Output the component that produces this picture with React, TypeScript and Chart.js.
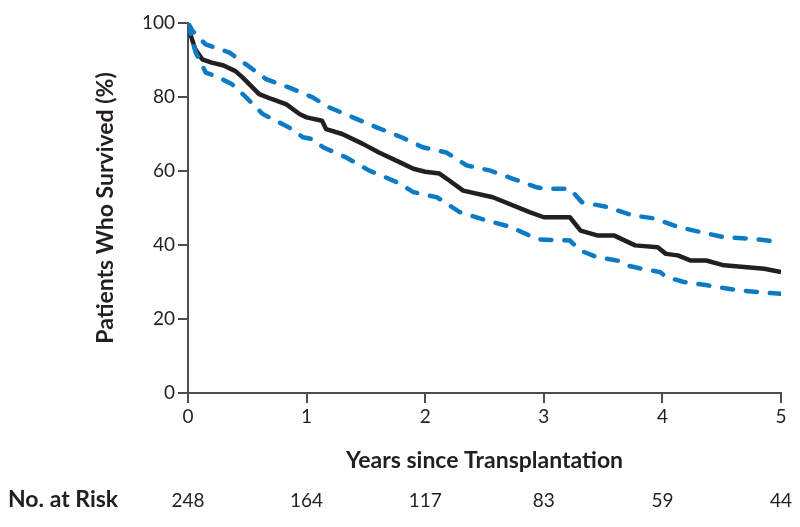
import React, { useEffect, useRef } from "react";
import { Chart, registerables } from "chart.js";

Chart.register(...registerables);

// Kaplan-Meier survival estimate (years, percent)
const survivalYears = [0, 0.02, 0.06, 0.12, 0.2, 0.3, 0.4, 0.46, 0.6, 0.71, 0.83, 0.94, 1.0, 1.13, 1.165, 1.3, 1.47, 1.61, 1.81, 1.9, 2.0, 2.12, 2.2, 2.32, 2.57, 2.88, 3.0, 3.22, 3.31, 3.45, 3.59, 3.77, 3.96, 4.03, 4.13, 4.24, 4.37, 4.52, 4.86, 5.0];
const survivalPct = [100, 97, 93, 90.2, 89.3, 88.5, 87, 85.3, 80.8, 79.4, 78, 75.4, 74.5, 73.6, 71.3, 70, 67.4, 65, 62, 60.6, 59.8, 59.3, 57.5, 54.7, 52.9, 48.9, 47.5, 47.5, 43.9, 42.6, 42.6, 39.9, 39.4, 37.6, 37.2, 35.8, 35.8, 34.5, 33.6, 32.7];

// Upper 95% confidence bound
const upperYears = [0, 0.04, 0.15, 0.35, 0.49, 0.66, 0.85, 1.05, 1.19, 1.39, 1.59, 1.81, 1.98, 2.18, 2.35, 2.55, 2.74, 2.94, 3.0, 3.22, 3.32, 3.53, 3.75, 3.93, 4.13, 4.32, 4.52, 4.75, 5.0];
const upperPct = [100, 97.8, 94.2, 92, 88.8, 84.8, 82.6, 79.9, 77.2, 74.5, 71.8, 69, 66.4, 65, 61.5, 60.1, 57.9, 55.6, 55.2, 55.2, 51.6, 50.3, 48, 47.2, 44.9, 43.5, 42.1, 41.7, 40.8];

// Lower 95% confidence bound
const lowerYears = [0, 0.03, 0.065, 0.15, 0.23, 0.37, 0.49, 0.63, 0.74, 0.85, 0.97, 1.05, 1.14, 1.33, 1.53, 1.76, 1.9, 2.1, 2.29, 2.52, 2.72, 2.95, 3.22, 3.31, 3.45, 3.62, 3.7, 3.82, 3.98, 4.03, 4.18, 4.38, 4.63, 4.91, 5.0];
const lowerPct = [100, 96, 92, 86.6, 85.7, 83.5, 79.9, 75.4, 73.6, 71.8, 69.1, 68.6, 66.4, 63.7, 60.1, 57, 54.3, 52.9, 48.9, 46.6, 44.9, 41.5, 41.2, 38.5, 36.7, 35.8, 34.5, 33.6, 32.7, 31.4, 30, 29.1, 27.8, 27.0, 26.8];

// Number at risk
const riskYears = [0, 1, 2, 3, 4, 5];
const atRisk = [248, 164, 117, 83, 59, 44];

const TEXT = "#231f20";
const AXIS = "#4d4d4f";
const BLUE = "#0b7bc6";
const FONT = "Lato";

const toPoints = (xs: number[], ys: number[]) => xs.map((x, i) => ({ x, y: ys[i] }));

const riskRowPlugin = {
  id: "riskRow",
  afterDraw(chart: any) {
    const ctx = chart.ctx;
    const xs = chart.scales.x;
    ctx.save();
    ctx.fillStyle = TEXT;
    ctx.textBaseline = "middle";
    ctx.font = `bold 23px ${FONT}`;
    ctx.textAlign = "left";
    ctx.fillText("No. at Risk", 8, 500);
    ctx.font = `19px ${FONT}`;
    ctx.textAlign = "center";
    atRisk.forEach((n, i) => {
      ctx.fillText(String(n), xs.getPixelForValue(riskYears[i]), 501);
    });
    ctx.restore();
  },
};

export default function App() {
  const canvasRef = useRef<HTMLCanvasElement | null>(null);

  useEffect(() => {
    if (!canvasRef.current) return;
    const chart = new Chart(canvasRef.current, {
      type: "line",
      data: {
        datasets: [
          {
            label: "Upper bound",
            data: toPoints(upperYears, upperPct),
            borderColor: BLUE,
            borderWidth: 4.5,
            borderDash: [11, 13],
            borderCapStyle: "round",
            pointRadius: 0,
            tension: 0,
            fill: false,
          },
          {
            label: "Lower bound",
            data: toPoints(lowerYears, lowerPct),
            borderColor: BLUE,
            borderWidth: 4.5,
            borderDash: [11, 13],
            borderCapStyle: "round",
            pointRadius: 0,
            tension: 0,
            fill: false,
          },
          {
            label: "Survival",
            data: toPoints(survivalYears, survivalPct),
            borderColor: TEXT,
            borderWidth: 4.5,
            borderJoinStyle: "round",
            pointRadius: 0,
            tension: 0,
            fill: false,
          },
        ],
      },
      options: {
        animation: false,
        responsive: true,
        maintainAspectRatio: false,
        layout: { padding: { left: 0, top: 23, right: 19, bottom: 0 } },
        plugins: {
          legend: { display: false },
          tooltip: { enabled: false },
        },
        scales: {
          x: {
            type: "linear",
            min: 0,
            max: 5,
            afterFit: (s: any) => {
              s.height = 134;
            },
            ticks: {
              stepSize: 1,
              color: TEXT,
              font: { family: FONT, size: 19 },
              padding: 2,
            },
            grid: {
              drawOnChartArea: false,
              drawTicks: true,
              tickLength: 10,
              color: AXIS,
              lineWidth: 2,
            },
            border: { display: true, color: AXIS, width: 2 },
            title: {
              display: true,
              text: "Years since Transplantation",
              color: TEXT,
              font: { family: FONT, size: 23, weight: "bold" },
              padding: { top: 0, bottom: 53 },
            },
          },
          y: {
            min: 0,
            max: 100,
            afterFit: (s: any) => {
              s.width = 188;
            },
            ticks: {
              stepSize: 20,
              color: TEXT,
              font: { family: FONT, size: 19 },
              padding: 3,
            },
            grid: {
              drawOnChartArea: false,
              drawTicks: true,
              tickLength: 10,
              color: AXIS,
              lineWidth: 2,
            },
            border: { display: true, color: AXIS, width: 2 },
            title: {
              display: true,
              text: "Patients Who Survived (%)",
              color: TEXT,
              font: { family: FONT, size: 23, weight: "bold" },
              padding: { top: 92, bottom: 0 },
            },
          },
        },
      },
      plugins: [riskRowPlugin],
    });
    return () => chart.destroy();
  }, []);

  return (
    <div style={{ position: "fixed", left: 0, top: 0, width: 800, height: 527, background: "#fff" }}>
      <canvas ref={canvasRef} />
    </div>
  );
}
